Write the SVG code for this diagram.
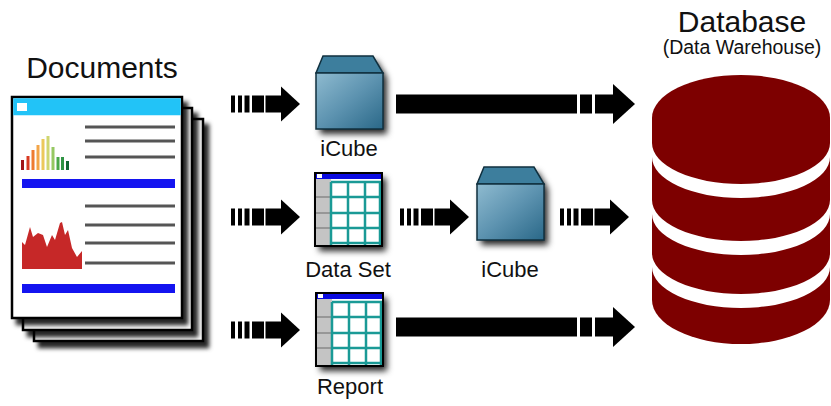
<svg xmlns="http://www.w3.org/2000/svg" width="831" height="406" viewBox="0 0 831 406">
  <style>
    .label { font-family: "Liberation Sans", Arial, sans-serif; fill: #111; }
    .page { fill: #fff; stroke: #000; stroke-width: 2.5; }
    .rule { stroke: #555; stroke-width: 3; }
    .bar { fill: #1414f0; }
    .arrow { fill: #000; }
    .grid { stroke: #1a9a96; stroke-width: 2.5; fill: none; }
    .graysep { stroke: #888; stroke-width: 1.5; }
    .cube-edge { stroke: #10303f; stroke-width: 1.5; }
    .band { fill: #fff; }
  </style>
  <defs>
    <filter id="pageShadow" x="-10%" y="-10%" width="130%" height="130%">
      <feDropShadow dx="5" dy="6" stdDeviation="2.2" flood-color="#000" flood-opacity="0.85"/>
    </filter>
    <filter id="iconShadow" x="-20%" y="-20%" width="150%" height="150%">
      <feDropShadow dx="4" dy="5" stdDeviation="3" flood-color="#000" flood-opacity="0.85"/>
    </filter>
    <linearGradient id="cubeFront" x1="0" y1="0" x2="1" y2="1">
      <stop offset="0" stop-color="#8fbbd0"/>
      <stop offset="0.5" stop-color="#5d93b0"/>
      <stop offset="1" stop-color="#2a6888"/>
    </linearGradient>

    <!-- iCube icon, 67 x 73 -->
    <g id="cubeIcon">
      <g filter="url(#iconShadow)">
        <polygon points="7,0 57,0 67,17 67,73 0,73 0,17" fill="#3b7d9c"/>
      </g>
      <polygon class="cube-edge" points="7,0 57,0 67,17 0,17" fill="#3d7e9d"/>
      <rect class="cube-edge" x="0" y="17" width="67" height="56" fill="url(#cubeFront)"/>
    </g>

    <!-- table icon, 67 x 73 -->
    <g id="tableIcon">
      <rect x="0" y="0" width="67" height="73" fill="#fff" filter="url(#iconShadow)"/>
      <rect x="0" y="6" width="16" height="67" fill="#c4c4c4"/>
      <line class="graysep" x1="0" y1="24" x2="16" y2="24"/>
      <line class="graysep" x1="0" y1="40" x2="16" y2="40"/>
      <line class="graysep" x1="0" y1="55" x2="16" y2="55"/>
      <path class="grid" d="M16 9 H67 M16 24 H67 M16 40 H67 M16 55 H67 M16 70 H67 M16 9 V73 M33 9 V73 M50 9 V73 M65 9 V73"/>
      <rect x="0" y="0" width="67" height="6" fill="#0a0ae0"/>
      <rect x="2" y="1" width="5" height="4" fill="#fff"/>
      <rect x="0" y="0" width="67" height="73" fill="none" stroke="#000" stroke-width="2"/>
    </g>

    <!-- short dashed arrow, starts at x=0, centred on y=0 -->
    <g id="dashArrow">
      <rect x="0" y="-8.5" width="4" height="17"/>
      <rect x="7" y="-8.5" width="4" height="17"/>
      <rect x="13.5" y="-8.5" width="5" height="17"/>
      <rect x="21" y="-8.5" width="12" height="17"/>
      <rect x="34.5" y="-8.5" width="16" height="17"/>
      <polygon points="50,-17.5 69,0 50,17.5"/>
    </g>

    <!-- long arrow, starts at x=0, centred on y=0 -->
    <g id="longArrow">
      <rect x="0" y="-9.5" width="181" height="19"/>
      <rect x="184" y="-9.5" width="12" height="19"/>
      <rect x="199" y="-9.5" width="19" height="19"/>
      <polygon points="217,-20 239,0 217,20"/>
    </g>
  </defs>

  <!-- Documents stack -->
  <g id="documents">
    <text class="label" x="102" y="78" font-size="30" text-anchor="middle">Documents</text>
    <rect class="page" x="34" y="119" width="169" height="222" filter="url(#pageShadow)"/>
    <rect class="page" x="23" y="108" width="169" height="222" filter="url(#pageShadow)"/>
    <rect class="page" x="12" y="97" width="170" height="221" filter="url(#pageShadow)"/>
    <rect x="13.25" y="98.25" width="167.5" height="17" fill="#22c3f7"/>
    <rect x="17" y="103" width="10" height="8" fill="#fff"/>
    <!-- text rules -->
    <line class="rule" x1="85" y1="127" x2="175" y2="127"/>
    <line class="rule" x1="85" y1="141" x2="175" y2="141"/>
    <line class="rule" x1="85" y1="157" x2="175" y2="157"/>
    <line class="rule" x1="85" y1="206" x2="175" y2="206"/>
    <line class="rule" x1="85" y1="225" x2="175" y2="225"/>
    <line class="rule" x1="85" y1="243" x2="175" y2="243"/>
    <line class="rule" x1="85" y1="263" x2="175" y2="263"/>
    <rect class="bar" x="22" y="179" width="153" height="9"/>
    <rect class="bar" x="22" y="284" width="153" height="9"/>
    <!-- bar chart -->
    <rect x="21" y="160" width="3" height="10" fill="#a01418"/>
    <rect x="26.5" y="156" width="3" height="14" fill="#d83a22"/>
    <rect x="31.5" y="150" width="3" height="20" fill="#ee7b30"/>
    <rect x="36.5" y="145" width="3" height="25" fill="#f3a548"/>
    <rect x="41.5" y="139" width="3" height="31" fill="#ecc85a"/>
    <rect x="46.5" y="136" width="3" height="34" fill="#cfd670"/>
    <rect x="51.5" y="147" width="3" height="23" fill="#96c862"/>
    <rect x="56.5" y="157" width="3" height="13" fill="#4aa848"/>
    <rect x="61" y="157" width="3" height="13" fill="#2f9444"/>
    <rect x="66" y="161" width="3" height="9" fill="#126834"/>
    <!-- area chart -->
    <polygon fill="#c62828" points="22,242 25,245 30,227 33,237 38,233 43,235 47,247 52,235 55,240 60,223 62,222 65,235 68,230 72,248 77,257 82,251 82,269 22,269"/>
  </g>

  <!-- iCube (top row) -->
  <g id="icube-top">
    <use href="#cubeIcon" x="316" y="56"/>
    <text class="label" x="349" y="156" font-size="22" text-anchor="middle">iCube</text>
  </g>

  <!-- Data Set -->
  <g id="dataset">
    <use href="#tableIcon" x="315" y="173"/>
    <text class="label" x="348" y="277" font-size="22" text-anchor="middle">Data Set</text>
  </g>

  <!-- iCube (middle row) -->
  <g id="icube-mid">
    <use href="#cubeIcon" x="477" y="167"/>
    <text class="label" x="510" y="277" font-size="22" text-anchor="middle">iCube</text>
  </g>

  <!-- Report -->
  <g id="report">
    <use href="#tableIcon" x="316" y="293"/>
    <text class="label" x="350" y="394" font-size="22" text-anchor="middle">Report</text>
  </g>

  <!-- Database -->
  <g id="database">
    <text class="label" x="742" y="32" font-size="30" text-anchor="middle">Database</text>
    <text class="label" x="742" y="54" font-size="19.5" text-anchor="middle">(Data Warehouse)</text>
    <path fill="#7d0000" d="M652,118 A89,43 0 0 1 830,118 L830,300 A89,44 0 0 1 652,300 Z"/>
    <path class="band" d="M652,143 A89,41 0 0 0 830,143 L830,157 A89,41 0 0 1 652,157 Z"/>
    <path class="band" d="M652,200 A89,41 0 0 0 830,200 L830,214 A89,41 0 0 1 652,214 Z"/>
    <path class="band" d="M652,253 A89,41 0 0 0 830,253 L830,267 A89,41 0 0 1 652,267 Z"/>
  </g>

  <!-- Connectors -->
  <g id="connectors" class="arrow">
    <use href="#dashArrow" x="231" y="104"/>
    <use href="#dashArrow" x="231" y="217"/>
    <use href="#dashArrow" x="231" y="330"/>
    <use href="#dashArrow" x="400" y="217"/>
    <use href="#dashArrow" x="560" y="217"/>
    <use href="#longArrow" x="396" y="104"/>
    <use href="#longArrow" x="396" y="327"/>
  </g>
</svg>
